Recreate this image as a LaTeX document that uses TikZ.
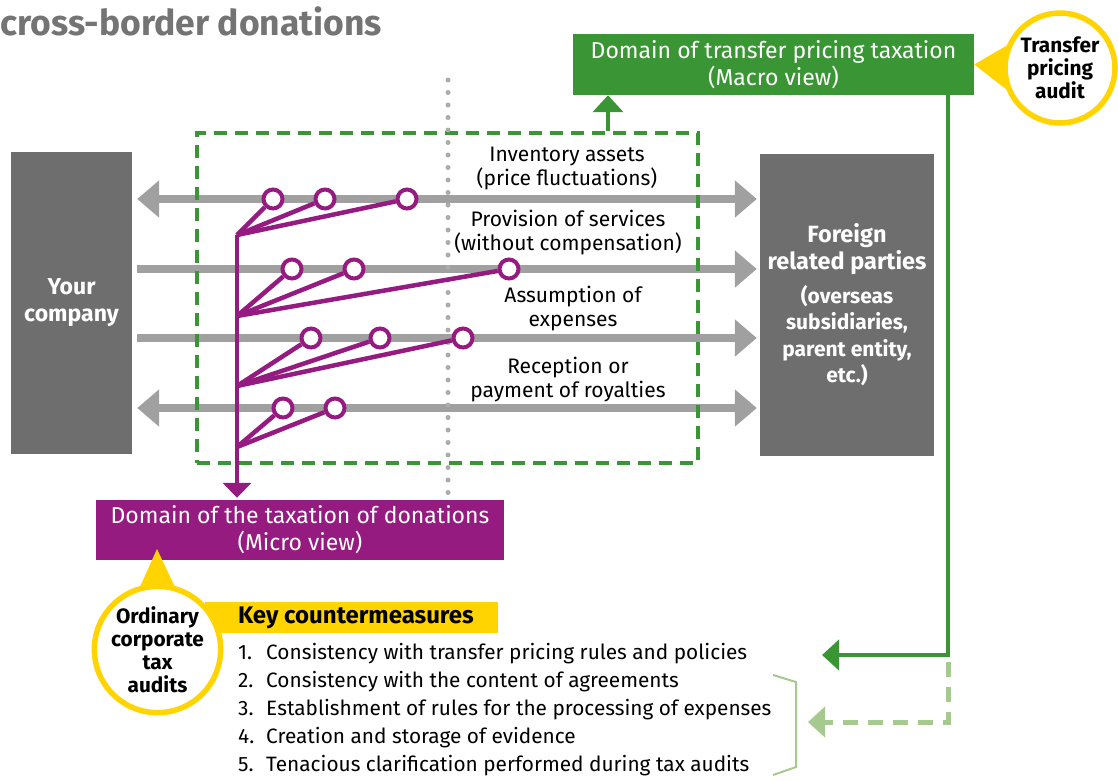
\documentclass[tikz,border=0pt]{standalone}
\usepackage{fontspec}
\setmainfont{Fira Sans}
\usetikzlibrary{positioning,arrows.meta,calc}

\definecolor{boxgray}{HTML}{6E6E6E}
\definecolor{flowgray}{HTML}{A0A0A0}
\definecolor{dotgray}{HTML}{ABABAB}
\definecolor{titlegray}{HTML}{747474}
\definecolor{tpgreen}{HTML}{3A9634}
\definecolor{fbgreen}{HTML}{A6C98F}
\definecolor{donpurple}{HTML}{951B81}
\definecolor{eyyellow}{HTML}{FFD400}

\begin{document}
\begin{tikzpicture} [
    x=1pt, y=-1pt,
    entity/.style   = {fill=boxgray, text=white, align=center,
                       inner sep=0pt, font=\bfseries},
    domainbox/.style = {text=white, align=center, inner sep=0pt,
                       font=\fontsize{23}{27}\selectfont},
    rowlabel/.style = {align=center, inner sep=0pt,
                       font=\fontsize{21}{24}\selectfont},
    audit/.style    = {circle, draw=eyyellow, fill=white, line width=5.5pt,
                       align=center, inner sep=0pt,
                       font=\bfseries\fontsize{20.8}{23}\selectfont},
    callout/.style  = {fill=eyyellow},
    flow/.style     = {draw=flowgray, line width=8pt,
                       >={Triangle[length=22pt,width=36pt]}},
    zone/.style     = {draw=tpgreen, line width=4pt,
                       dash pattern=on 13pt off 8pt,
                       minimum width=501pt, minimum height=330pt},
    divider/.style  = {draw=dotgray, line width=5pt, line cap=round,
                       dash pattern=on 0pt off 12.5pt},
    tree/.style     = {draw=donpurple, line width=4.5pt,
                       >={Triangle[length=15pt,width=28pt]}},
    coin/.style     = {circle, draw=donpurple, line width=4pt, fill=white,
                       minimum size=19pt, inner sep=0pt},
    tparr/.style    = {draw=tpgreen, line width=4.5pt,
                       >={Triangle[length=17pt,width=30pt]}},
    fbarr/.style    = {draw=fbgreen, line width=5pt,
                       dash pattern=on 15pt off 10pt,
                       >={Triangle[length=17pt,width=30pt]}},
    brace/.style    = {draw=fbgreen, line width=2pt}
]
\useasboundingbox (0,0) rectangle (1118,780);

\node (title) [anchor=base west, inner sep=0pt, text=titlegray,
               font=\bfseries\fontsize{35.5}{40}\selectfont] at (0,35)
    {cross-border donations};

% the two parties
\node (you) [entity, minimum width=121pt, minimum height=302pt,
             font=\bfseries\fontsize{23}{27}\selectfont] at (71.5,303)
    {Your\\company};
\node (foreign) [entity, minimum width=174pt, minimum height=302pt,
                 font=\bfseries\fontsize{23.5}{26.5}\selectfont] at (847,305)
    {Foreign\\related parties\\[7.5pt]
     \fontsize{21}{26.5}\selectfont (overseas\\
     \fontsize{21}{26.5}\selectfont subsidiaries,\\
     \fontsize{21}{26.5}\selectfont parent entity,\\
     \fontsize{21}{26.5}\selectfont etc.)};

% domain boxes
\node (tpbox) [domainbox, fill=tpgreen, minimum width=401pt, minimum height=61pt]
    at (773.5,64.5) {Domain of transfer pricing taxation\\(Macro view)};

% transactions
\coordinate (r1) at (0,199);
\coordinate (r2) at (0,269);
\coordinate (r3) at (0,338);
\coordinate (r4) at (0,408);
\draw[flow, <->, shorten <=5pt, shorten >=3pt] (you.east |- r1) -- (foreign.west |- r1);
\draw[flow, ->,  shorten <=5pt, shorten >=3pt] (you.east |- r2) -- (foreign.west |- r2);
\draw[flow, ->,  shorten <=5pt, shorten >=3pt] (you.east |- r3) -- (foreign.west |- r3);
\draw[flow, <->, shorten <=5pt, shorten >=3pt] (you.east |- r4) -- (foreign.west |- r4);

\node (lab1) [rowlabel] at (567,168) {Inventory assets\\(price fluctuations)};
\node (lab2) [rowlabel] at (568,233) {Provision of services\\(without compensation)};
\node (lab3) [rowlabel] at (573,309) {Assumption of\\expenses};
\node (lab4) [rowlabel] at (568,380) {Reception or\\payment of royalties};

% transfer pricing zone
\node (tpzone) [zone] at (447.5,298) {};
\coordinate (tpup) at (608,0);
\draw[tparr, ->] (tpzone.north -| tpup) -- (tpbox.south -| tpup);

\coordinate (divtop) at (448,80);
\coordinate (divbot) at (448,495);
\draw[divider] (divtop) -- (divbot);

% donation tree
\node (donbox) [domainbox, fill=donpurple, minimum width=408pt, minimum height=60pt]
    at (300,530) {Domain of the taxation of donations\\(Micro view)};

\coordinate (b1) at (237,235);
\coordinate (b2) at (237,316);
\coordinate (b3) at (237,386);
\coordinate (b4) at (237,447);
\draw[tree, ->, shorten >=2pt] (b1) -- (donbox.north -| b1);

\node (c11) [coin] at (273,199) {};
\node (c12) [coin] at (325,199) {};
\node (c13) [coin] at (407,199) {};
\node (c21) [coin] at (292,269) {};
\node (c22) [coin] at (354,269) {};
\node (c23) [coin] at (509,269) {};
\node (c31) [coin] at (311,338) {};
\node (c32) [coin] at (380,338) {};
\node (c33) [coin] at (463,338) {};
\node (c41) [coin] at (283,408) {};
\node (c42) [coin] at (335,408) {};
\draw[tree] (b1) -- (c11);
\draw[tree] (b1) -- (c12);
\draw[tree] (b1) -- (c13);
\draw[tree] (b2) -- (c21);
\draw[tree] (b2) -- (c22);
\draw[tree] (b2) -- (c23);
\draw[tree] (b3) -- (c31);
\draw[tree] (b3) -- (c32);
\draw[tree] (b3) -- (c33);
\draw[tree] (b4) -- (c41);
\draw[tree] (b4) -- (c42);

% audits
\coordinate (tpac) at (1060,68);
\fill[callout] (tpbox.east) -- ($(tpac)+(153:55)$) -- ($(tpac)+(207:55)$) -- cycle;
\node (tpaudit) [audit, minimum size=110pt] at (tpac) {Transfer\\pricing\\audit};

\node (keybar) [fill=eyyellow, minimum width=293pt, minimum height=31pt,
                inner sep=0pt, anchor=west] at (205,617.5) {};
\node (keytitle) [anchor=west, inner sep=0pt,
                  font=\bfseries\fontsize{24}{28}\selectfont]
    at (238,617.5) {Key countermeasures};

\coordinate (odac) at (157.5,649.5);
\fill[callout] (157,549) -- ($(odac)+(252:62)$) -- ($(odac)+(288:62)$) -- cycle;
\node (odaudit) [audit, minimum size=123pt] at (odac)
    {Ordinary\\corporate\\tax\\audits};

\node (keylist) [anchor=north west, inner sep=0pt, align=left,
                 font=\fontsize{20.8}{28}\selectfont] at (238,640)
    {\begin{tabular}{@{}l@{\hspace{12pt}}l@{}}
     1. & Consistency with transfer pricing rules and policies\\
     2. & Consistency with the content of agreements\\
     3. & Establishment of rules for the processing of expenses\\
     4. & Creation and storage of evidence\\
     5. & Tenacious clarification performed during tax audits
     \end{tabular}};

% feedback to the countermeasures
\coordinate (tpdown) at (948,0);
\coordinate (tpret) at (822,655);
\draw[tparr, ->] (tpbox.south -| tpdown) |- (tpret);
\coordinate (fbtop) at (948,662);
\coordinate (fbret) at (808,722);
\draw[fbarr, ->] (fbtop) |- (fbret);
\draw[brace] (773,675) -- (796,682) -- (796,767) -- (773,775);
\end{tikzpicture}
\end{document}
